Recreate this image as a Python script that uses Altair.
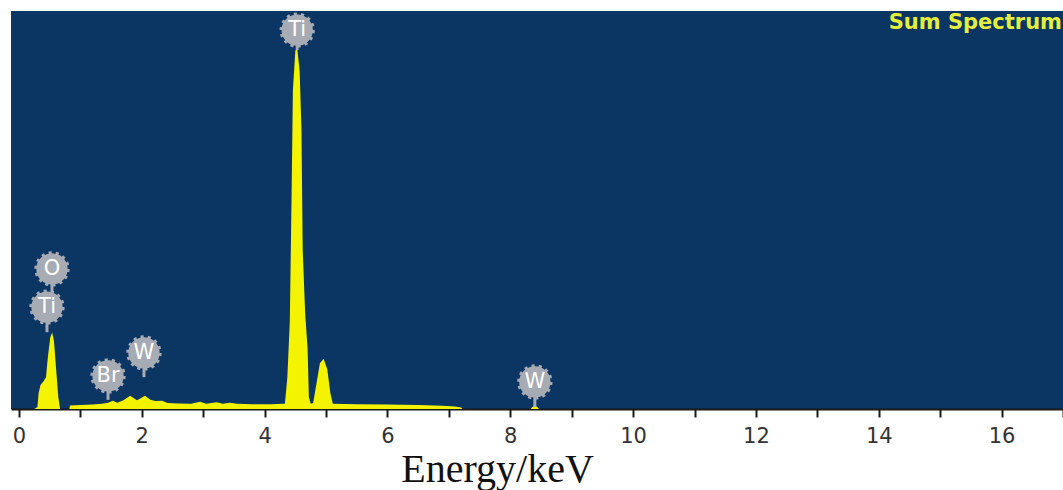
import altair as alt
import pandas as pd

# EDS sum spectrum: energy (keV) vs. relative counts
energy = [0.25, 0.30, 0.32, 0.35, 0.40, 0.44, 0.47, 0.51, 0.54, 0.57, 0.61, 0.64, 0.67,
          0.82, 0.83, 1.00, 1.20, 1.35, 1.45, 1.53, 1.60, 1.70, 1.81, 1.92, 1.97, 2.05,
          2.14, 2.22, 2.33, 2.42, 2.60, 2.80, 2.95, 3.05, 3.22, 3.32, 3.43, 3.55, 3.80,
          4.10, 4.30, 4.33, 4.37, 4.41, 4.44, 4.46, 4.50, 4.53, 4.57, 4.60, 4.62, 4.66,
          4.70, 4.72, 4.75, 4.79, 4.84, 4.90, 4.96, 5.02, 5.07, 5.11, 5.50, 6.00, 6.50,
          6.90, 7.10, 7.20, 7.22, 8.33, 8.37, 8.40, 8.43, 8.47]
counts = [0.0, 0.5, 4.0, 6.0, 7.0, 8.0, 13.0, 18.0, 19.2, 17.0, 9.0, 3.0, 0.0,
          0.0, 0.9, 1.0, 1.1, 1.3, 1.6, 2.1, 1.6, 2.2, 3.3, 2.2, 2.6, 3.3,
          2.3, 2.0, 2.1, 1.5, 1.4, 1.3, 1.8, 1.3, 1.7, 1.3, 1.6, 1.3, 1.2,
          1.2, 1.3, 1.3, 8.0, 22.0, 55.0, 80.0, 90.0, 90.7, 85.0, 70.0, 40.0, 24.0,
          15.0, 3.0, 1.3, 1.5, 6.0, 11.5, 12.6, 10.0, 4.0, 1.3, 1.2, 1.1, 1.0,
          0.8, 0.6, 0.4, 0.0, 0.0, 0.6, 0.8, 0.6, 0.0]

# Element markers: symbol, line energy, marker height, stem end
element = ["Ti", "Ti", "O", "Br", "W", "W"]
line_kev = [4.53, 0.456, 0.537, 1.45, 2.035, 8.40]
marker_y = [95.2, 25.6, 35.2, 8.3, 14.1, 6.8]
stem_end = [90.2, 19.3, 25.6, 2.3, 8.0, 0.5]

tick_values = [i * 0.5 for i in range(0, 35)]

spec = pd.DataFrame({"energy": energy, "counts": counts})
marks = pd.DataFrame({"element": element, "kev": line_kev,
                      "my": marker_y, "stem": stem_end})

x_scale = alt.Scale(domain=[-0.13, 17.0], nice=False, zero=False)
y_scale = alt.Scale(domain=[0, 100], nice=False, zero=True)

x_axis = alt.Axis(
    values=tick_values,
    labelExpr="datum.value % 2 == 0 ? format(datum.value, 'd') : ''",
    grid=False,
    domainColor="#1a1a1a", domainWidth=2,
    tickColor="#1a1a1a", tickWidth=2, tickSize=8,
    labelFont="DejaVu Sans", labelFontSize=21, labelColor="#333333",
    labelPadding=8,
    title="Energy/keV",
    titleFont="Liberation Serif", titleFontSize=40, titleFontWeight="normal",
    titleColor="#111111", titleBaseline="alphabetic",
    titleAlign="center", titleX=486, titleY=72,
)

area = alt.Chart(spec).mark_area(color="#f4f400", interpolate="linear").encode(
    x=alt.X("energy:Q", scale=x_scale, axis=x_axis),
    y=alt.Y("counts:Q", scale=y_scale, axis=None),
)

gray = "#a7abb3"

stems = alt.Chart(marks).mark_rule(color=gray, strokeWidth=3).encode(
    x=alt.X("kev:Q", scale=x_scale),
    y=alt.Y("my:Q", scale=y_scale),
    y2="stem:Q",
)

badges = alt.Chart(marks).mark_point(
    shape="circle", filled=True, size=980, color=gray, opacity=1,
    stroke=gray, strokeWidth=4, strokeDash=[3, 4],
).encode(
    x=alt.X("kev:Q", scale=x_scale),
    y=alt.Y("my:Q", scale=y_scale),
)

badge_text = alt.Chart(marks).mark_text(
    color="white", font="DejaVu Sans", fontSize=21, align="center", baseline="middle",
).encode(
    x=alt.X("kev:Q", scale=x_scale),
    y=alt.Y("my:Q", scale=y_scale),
    text="element:N",
)

caption = alt.Chart(pd.DataFrame({"t": ["Sum Spectrum"]})).mark_text(
    color="#e4ee3c", font="DejaVu Sans", fontSize=21, fontWeight="bold",
    align="right", baseline="alphabetic",
).encode(
    x=alt.value(1051), y=alt.value(18), text="t:N",
)

chart = alt.layer(area, stems, badges, badge_text, caption).properties(
    width=1052, height=398,
    autosize=alt.AutoSizeParams(type="none"),
    padding={"left": 11, "top": 11, "right": 0, "bottom": 81},
    background="white",
).configure_view(fill="#0b3563", stroke=None)

chart.save("out.html", embed_options={"renderer": "svg", "actions": False})
